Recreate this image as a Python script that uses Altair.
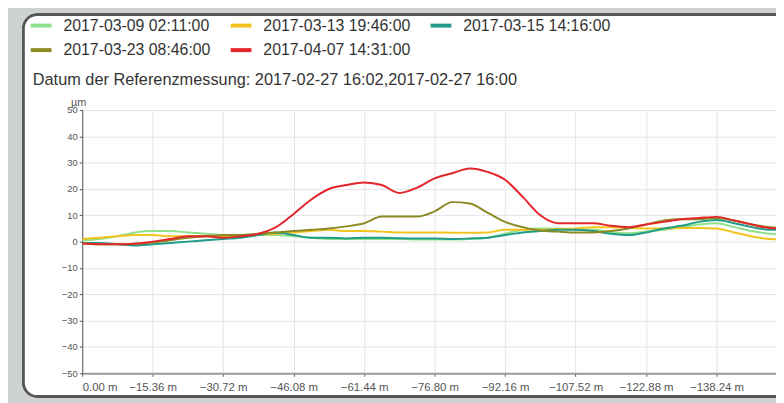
import altair as alt
import pandas as pd

# distance along the line (m), step 3.84 m
distance = [-3.84 * i for i in range(41)]

series_names = [
    "2017-03-09 02:11:00",
    "2017-03-13 19:46:00",
    "2017-03-15 14:16:00",
    "2017-03-23 08:46:00",
    "2017-04-07 14:31:00",
]
series_colors = ["#8fe08a", "#f2c31f", "#1f9c88", "#8c8a24", "#e3262b"]

light_green = [0.5, 1, 2, 3.5, 4, 4, 3.5, 3, 2.5, 2.5, 2.5, 2.5, 2, 1.5, 1, 1, 1, 1, 1, 0.8,
               0.8, 0.8, 1, 1.5, 3, 4.5, 5, 5, 4.5, 4.5, 3.5, 3.2, 3.8, 4.5, 5.5, 6.5, 7, 5.5, 4, 3, 2.5]
yellow = [1, 1.5, 2, 2.5, 2.5, 2, 2, 2, 2, 2, 2.5, 3, 3.5, 4, 4.5, 4, 4, 3.8, 3.5, 3.5,
          3.5, 3.4, 3.4, 3.5, 4.5, 4.5, 4.5, 4.8, 5, 5.5, 5.5, 5.2, 5, 5, 5.2, 5.2, 5, 3.5, 2, 1, 0.8]
teal = [-0.5, -0.5, -1, -1.5, -1, -0.5, 0, 0.5, 1, 1.5, 2.5, 3.5, 2.5, 1.5, 1.5, 1.2, 1.5, 1.5, 1.3, 1.2,
        1.2, 1, 1.2, 1.5, 2.5, 3.5, 4, 4.5, 4.5, 4, 3, 2.5, 3.5, 5, 6, 7.5, 8.2, 7, 5.5, 4.5, 4.5]
olive = [-0.7, -1, -1, -0.8, -0.3, 0.5, 1.5, 2, 2.5, 2.5, 3, 3.5, 4, 4.5, 5, 5.8, 7, 9.5, 9.5, 9.5,
         11.5, 15, 14.5, 11, 7.5, 5.5, 4.2, 3.8, 3.5, 3.5, 4, 5, 6.5, 8, 8.5, 8.5, 9, 8, 6.5, 5.5, 5]
red = [-0.7, -1, -1, -0.8, 0, 1, 2, 2, 1.5, 2, 3, 5.5, 10.5, 16, 20, 21.5, 22.5, 21.5, 18.5, 20.5,
       24, 26, 27.8, 26.5, 23.5, 17, 10, 7, 7, 7, 6, 5.5, 6.5, 7.5, 8.5, 9, 9.4, 8, 6.5, 5.2, 5]

x_ticks = [0, -15.36, -30.72, -46.08, -61.44, -76.80, -92.16, -107.52, -122.88, -138.24]
y_ticks = [50, 40, 30, 20, 10, 0, -10, -20, -30, -40, -50]

subtitle = "Datum der Referenzmessung: 2017-02-27 16:02,2017-02-27 16:00"

rows = []
for name, vals in zip(series_names, [light_green, yellow, teal, olive, red]):
    for d, v in zip(distance, vals):
        rows.append({"Distanz": d, "Wert": v, "Messung": name})
df = pd.DataFrame(rows)

FONT = "Liberation Sans"

lines = alt.Chart(df).mark_line(strokeWidth=2, clip=True, interpolate="monotone").encode(
    x=alt.X(
        "Distanz:Q",
        scale=alt.Scale(domain=[0, -151.2], nice=False, zero=False),
        axis=alt.Axis(
            values=x_ticks,
            labelExpr="format(datum.value, '.2f') + ' m'",
            title=None,
            grid=True,
            gridColor="#e4e4e4",
            domainColor="#9a9a9a",
            domainWidth=2,
            tickColor="#555555",
            tickSize=3,
            labelFontSize=11.5,
            labelColor="#555555",
            labelPadding=5,
            labelFont=FONT,
        ),
    ),
    y=alt.Y(
        "Wert:Q",
        scale=alt.Scale(domain=[-50, 50], nice=False),
        axis=alt.Axis(
            values=y_ticks,
            title="µm",
            titleAngle=0,
            titleX=-4,
            titleY=-3,
            titleAlign="center",
            titleBaseline="bottom",
            titleFontSize=11,
            titleFontWeight="normal",
            titleColor="#555555",
            titleFont=FONT,
            grid=True,
            gridColor="#e4e4e4",
            domainColor="#555555",
            tickColor="#555555",
            tickSize=3,
            labelFontSize=9.5,
            labelColor="#555555",
            labelPadding=2,
            labelFont=FONT,
        ),
    ),
    color=alt.Color(
        "Messung:N",
        scale=alt.Scale(domain=series_names, range=series_colors),
        legend=alt.Legend(
            title=None,
            orient="none",
            legendX=-54,
            legendY=-98,
            columns=3,
            direction="horizontal",
            symbolType="stroke",
            symbolSize=441,
            symbolStrokeWidth=4,
            labelFontSize=16,
            labelColor="#333333",
            labelFont=FONT,
            labelOffset=10,
            columnPadding=12,
            rowPadding=4,
            padding=0,
        ),
    ),
)

frame_data = pd.DataFrame({"k": [0]})
outer = alt.Chart(frame_data).mark_rect(
    stroke="#cfd2d2", strokeWidth=24, fillOpacity=0, cornerRadius=27
).encode(x=alt.value(-73), x2=alt.value(830), y=alt.value(-110), y2=alt.value(303))
inner = alt.Chart(frame_data).mark_rect(
    stroke="#585858", strokeWidth=3, fillOpacity=0, cornerRadius=14
).encode(x=alt.value(-59.5), x2=alt.value(830), y=alt.value(-96.5), y2=alt.value(289.5))

sub = alt.Chart(frame_data).mark_text(
    align="left", baseline="middle", fontSize=16.5, font=FONT, color="#333333"
).encode(x=alt.value(-50), y=alt.value(-30), text=alt.value(subtitle))

chart = alt.layer(lines, inner, outer, sub).properties(
    width=701,
    height=266,
    autosize=alt.AutoSizeParams(type="none"),
    padding={"left": 75, "top": 101, "right": 0, "bottom": 28},
    background="white",
).configure_view(stroke=None)

chart.save("out.html", embed_options={"renderer": "svg", "actions": False})
